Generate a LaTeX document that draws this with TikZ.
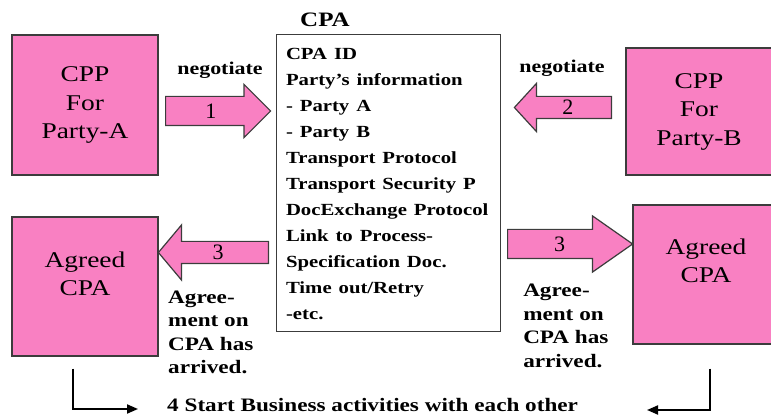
\documentclass[tikz,border=0pt]{standalone}
\usepackage{fontspec}
\setmainfont{Liberation Serif}
\usepackage{tikz}
\usetikzlibrary{positioning}
\usetikzlibrary{shapes.arrows}
\usetikzlibrary{arrows.meta}
\definecolor{cpa_pink}{RGB}{249,128,194}
\definecolor{cpa_line}{RGB}{60,60,60}
\tikzstyle{cpa_box} = [draw = cpa_line, fill = cpa_pink, line width = 1.2pt, minimum width = 119.7pt, xscale = 1.22]
\tikzstyle{cpa_label} = [inner sep = 0, align = center, xscale = 1.22, font = \fontsize{22.5}{28.5}\selectfont]
\tikzstyle{cpa_doc} = [draw = cpa_line, fill = white, line width = 1pt, minimum width = 184.4pt, minimum height = 297pt, text width = 168pt, inner xsep = 8.2pt, align = left, xscale = 1.22, font = \bfseries\fontsize{17}{26}\selectfont]
\tikzstyle{cpa_note} = [inner sep = 0, align = left, xscale = 1.22, font = \bfseries\fontsize{19}{23.5}\selectfont]
\tikzstyle{cpa_arrow} = [single arrow, draw = cpa_line, fill = cpa_pink, line width = 1.2pt, text height = 15pt, text depth = 0pt, inner xsep = 0pt, single arrow tip angle = 90, font = \fontsize{22}{22}\selectfont]
\tikzstyle{cpa_start} = [line width = 2pt, -{Triangle[length = 11pt, width = 9pt]}]

\begin{document}
\begin{tikzpicture}[x = 1pt, y = -1pt]
        \useasboundingbox (0, 0) rectangle (771, 419);
        \node [style = {cpa_box}, minimum height = 140pt] (cpp_a) at (85, 105) {};
        \node [style = {cpa_label}] (cpp_a_text) at (cpp_a.center) {CPP\\For\\Party-A};
        \node [style = {cpa_box}, minimum height = 127pt] (cpp_b) at (699, 111.5) {};
        \node [style = {cpa_label}] (cpp_b_text) at (cpp_b.center) {CPP\\For\\Party-B};
        \node [style = {cpa_box}, minimum height = 139pt] (agreed_a) at (85, 286.5) {};
        \node [style = {cpa_label}] (agreed_a_text) at ([yshift = 12.5pt]agreed_a.center) {Agreed\\CPA};
        \node [style = {cpa_box}, minimum height = 139pt] (agreed_b) at (706, 274.5) {};
        \node [style = {cpa_label}] (agreed_b_text) at ([yshift = 13.5pt]agreed_b.center) {Agreed\\CPA};
        \node [style = {cpa_doc}] (cpa) at (388.5, 183.5) {CPA ID\\Party's information\\- Party A\\- Party B\\Transport Protocol\\Transport Security P\\DocExchange Protocol\\Link to Process-\\Specification Doc.\\Time out/Retry\\-etc.};
        \node [style = {cpa_note}, anchor = base west, font = \bfseries\fontsize{20.5}{24}\selectfont] (cpa_title) at (300, 27) {CPA};
        \node [style = {cpa_arrow}, anchor = tail, minimum height = 105pt, minimum width = 52pt, inner ysep = 6.5pt, single arrow head extend = 12pt] (arrow_1) at (165, 111) {1};
        \node [style = {cpa_arrow}, anchor = tail, shape border rotate = 180, minimum height = 97pt, minimum width = 47pt, inner ysep = 3pt, single arrow head extend = 13pt, single arrow tip angle = 95] (arrow_2) at (612, 107.5) {2};
        \node [style = {cpa_arrow}, anchor = tail, shape border rotate = 180, minimum height = 110pt, minimum width = 54pt, inner ysep = 3pt, single arrow head extend = 16.5pt, single arrow tip angle = 100] (arrow_3a) at (269, 252.5) {3};
        \node [style = {cpa_arrow}, anchor = tail, minimum height = 125pt, minimum width = 55pt, inner ysep = 6.5pt, single arrow head extend = 13.5pt, single arrow tip angle = 70] (arrow_3b) at (507, 244) {3};
        \node [style = {cpa_note}, anchor = base, font = \bfseries\fontsize{18}{20}\selectfont] (negotiate_a) at (220, 75) {negotiate};
        \node [style = {cpa_note}, anchor = base, font = \bfseries\fontsize{18}{20}\selectfont] (negotiate_b) at (562, 73) {negotiate};
        \node [style = {cpa_note}, anchor = north west] (arrived_a) at (168, 290.5) {Agree-\\ment on\\CPA has\\arrived.};
        \node [style = {cpa_note}, anchor = north west] (arrived_b) at (523, 284) {Agree-\\ment on\\CPA has\\arrived.};
        \node [style = {cpa_note}, anchor = base west] (start) at (167, 412) {4 Start Business activities with each other};
        \coordinate (start_a) at (138, 409);
        \coordinate (start_b) at (647, 410);
        \draw [style = {cpa_start}] ([xshift = -12pt, yshift = -12pt]agreed_a.south) |- (start_a);
        \draw [style = {cpa_start}] ([xshift = 4pt, yshift = -24pt]agreed_b.south) |- (start_b);
    \end{tikzpicture}
\end{document}
